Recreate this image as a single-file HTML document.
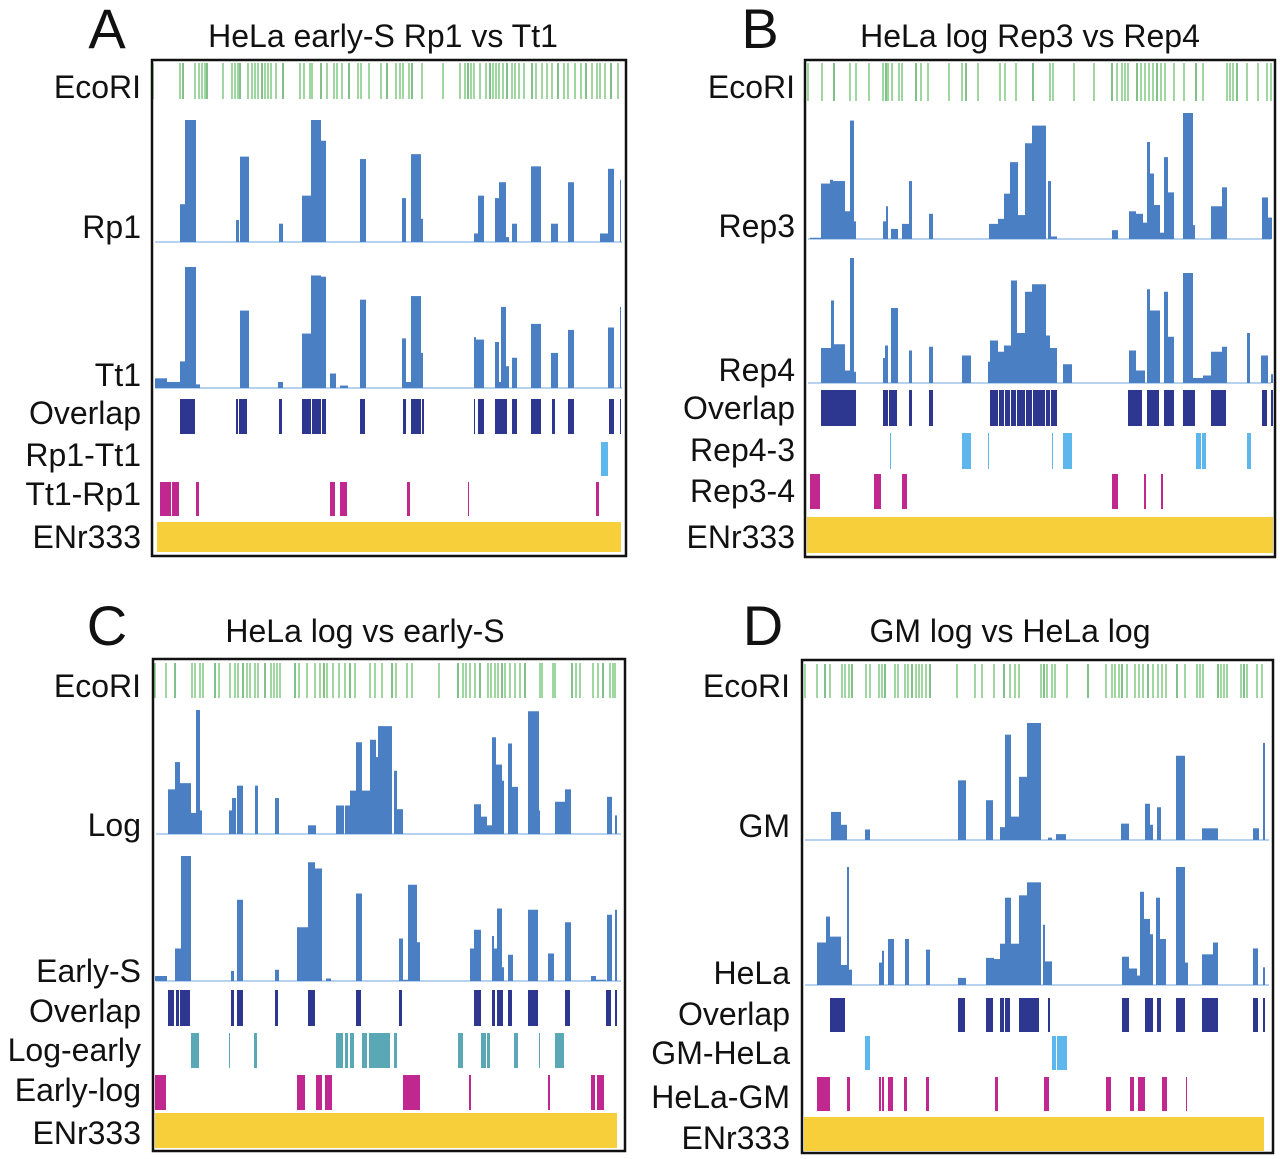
<!DOCTYPE html>
<html><head><meta charset="utf-8"><style>
html,body{margin:0;padding:0;background:#fff;}
svg{display:block;font-family:"Liberation Sans",Arial,sans-serif;}
</style></head><body>
<svg id="fig" width="1280" height="1159" viewBox="0 0 1280 1159" xmlns="http://www.w3.org/2000/svg"></svg>
<script>
// ===== DATA (positions in kb units along region, heights as fraction of track max) =====
const ecoA=[3,30,33,45,49,52,55,57,73,82,85,88,90,98,102,105,108,112,115,118,121,126,133,150,154,160,162,171,177,184,187,192,199,208,211,219,231,237,246,250,253,259,262,272,293,310,315,318,321,324,330,336,340,343,346,349,353,357,362,365,369,374,382,386,392,397,402,408,414,418,425,431,436,442,447,450,455,461,468];
const rp1=[[30,37,.31],[35,46,1],[86,89,.18],[90,99,.7],[129,133,.15],[152,161,.38],[161,171,1],[171,176,.83],[210,216,.68],[252,256,.36],[261,271,.72],[271,273,.19],[324,328,.07],[328,334,.38],[345,349,.36],[349,356,.49],[356,359,.04],[362,367,.15],[381,391,.62],[401,408,.15],[418,424,.49],[450,458,.07],[458,464,.6],[470,471,.51]];
const tt1=[[5,17,.08],[17,30,.05],[30,35,.22],[35,46,1],[46,50,.03],[90,99,.64],[128,133,.05],[152,161,.45],[161,171,.93],[171,176,.92],[180,186,.12],[190,198,.02],[210,216,.73],[252,256,.41],[256,261,.05],[261,271,.76],[271,273,.29],[324,326,.42],[326,334,.4],[345,349,.38],[349,351,.05],[351,356,.67],[356,359,.18],[362,367,.25],[381,391,.53],[401,408,.29],[418,424,.48],[458,464,.5],[470,471,.67]];
const ovA=[[30,45],[86,88],[89,97],[129,132],[152,161],[162,171],[172,176],[210,215],[253,256],[261,271],[272,274],[324,325],[328,334],[345,357],[362,367],[381,391],[402,405],[418,424],[459,464],[470,471]];
const rp1MinusTt1=[[451,458]];
const tt1MinusRp1=[[10,21],[22,29],[46,49],[180,185],[190,197],[257,260],[318,319],[446,449]];

const ecoB=[8,22,34,50,56,69,83,86,88,92,99,102,116,121,128,149,162,166,178,200,205,216,233,250,253,274,294,312,317,322,325,328,337,341,345,349,353,357,361,365,374,384,396,403,427,430,433,437,447,458,467,471];
const rep3=[[10,21,.01],[21,30,.44],[30,33,.47],[33,45,.46],[45,50,.22],[50,54,.94],[54,56,.14],[83,86,.14],[86,88,.26],[91,98,.08],[102,109,.12],[109,112,.46],[129,133,.2],[189,198,.12],[198,204,.16],[204,210,.36],[210,218,.61],[218,225,.19],[225,232,.76],[232,246,.9],[248,251,.46],[251,257,.02],[312,318,.07],[329,336,.22],[336,343,.2],[343,347,.13],[347,350,.77],[350,354,.52],[354,360,.27],[360,364,.05],[364,368,.65],[368,374,.37],[383,393,1],[393,395,.11],[411,422,.26],[422,427,.41],[462,468,.33],[468,472,.17]];
const rep4=[[21,31,.28],[31,34,.66],[34,45,.31],[45,50,.1],[50,54,1],[54,56,.09],[83,85,.2],[85,88,.3],[91,98,.6],[109,112,.26],[129,133,.29],[162,171,.22],[188,190,.17],[190,198,.34],[198,204,.25],[204,211,.3],[211,217,.82],[217,225,.4],[225,232,.73],[232,246,.79],[246,250,.38],[250,257,.28],[263,272,.15],[329,336,.26],[336,345,.1],[347,350,.75],[350,360,.58],[364,368,.73],[368,374,.37],[383,393,.88],[393,403,.04],[403,411,.06],[411,422,.25],[422,427,.29],[447,450,.4],[461,468,.22],[471,473,.07]];
const ovB=[[21,54],[54,56],[83,88],[89,97],[109,112],[129,133],[190,198],[199,204],[205,210],[211,216],[217,225],[226,232],[233,245],[246,250],[251,257],[328,342],[347,359],[364,374],[383,395],[411,426],[462,467],[471,473]];
const rep4Minus3=[[90,91],[162,171],[188,189],[252,253],[263,272],[396,401],[402,406],[447,451]];
const rep3Minus4=[[10,20],[74,81],[102,107],[312,318],[344,346],[361,363]];

const ecoC=[5,16,25,42,45,50,53,65,69,80,85,88,93,97,100,105,108,115,121,124,127,130,145,149,157,165,170,174,177,183,189,195,200,205,220,225,232,242,246,257,262,289,308,313,316,320,325,330,338,341,345,348,352,355,360,365,370,375,390,392,403,405,422,426,430,443,448,453,460,463,465];
const logS=[[18,25,.36],[25,30,.58],[30,41,.41],[41,46,.17],[46,50,1],[50,52,.19],[79,82,.19],[82,86,.29],[87,93,.39],[105,108,.39],[125,129,.29],[158,166,.07],[186,194,.23],[195,200,.23],[200,206,.35],[206,212,.74],[212,220,.35],[220,226,.76],[226,228,.62],[228,242,.87],[244,247,.51],[247,253,.2],[324,331,.24],[331,337,.14],[337,342,.07],[342,346,.78],[346,352,.56],[352,354,.43],[358,362,.73],[362,368,.38],[378,389,.99],[389,390,.19],[405,415,.26],[415,421,.36],[457,462,.3],[465,467,.15]];
const earlyS=[[5,17,.04],[25,31,.26],[31,41,1],[81,84,.08],[87,93,.65],[125,129,.09],[147,158,.43],[158,165,.95],[165,172,.9],[176,181,.02],[206,212,.7],[249,253,.34],[253,258,.01],[258,267,.77],[267,270,.31],[320,324,.26],[324,331,.41],[342,344,.36],[344,347,.26],[347,352,.58],[352,354,.11],[358,363,.21],[378,388,.57],[398,404,.22],[415,421,.47],[441,446,.04],[446,456,.01],[457,462,.53],[465,467,.57]];
const ovC=[[18,24],[26,29],[30,40],[81,84],[87,93],[125,128],[158,165],[206,211],[249,252],[324,331],[342,345],[347,353],[358,362],[378,388],[415,420],[456,461],[465,467]];
const logMinusEarly=[[41,49],[79,80],[104,107],[186,193],[195,198],[200,204],[212,217],[219,240],[244,247],[308,313],[331,336],[337,340],[364,368],[389,390],[405,414]];
const earlyMinusLog=[[5,16],[147,155],[166,172],[175,182],[253,270],[319,321],[398,400],[441,445],[447,454]];

const ecoD=[8,20,28,33,45,48,52,55,69,73,82,85,88,98,101,108,111,115,119,122,125,129,133,160,178,185,197,207,213,218,222,244,247,250,255,258,270,291,309,315,318,322,325,330,338,342,346,351,356,361,365,369,380,388,400,403,406,421,424,427,430,444,447,450,460,465];
const gm=[[34,44,.24],[44,50,.13],[68,73,.09],[161,169,.51],[189,196,.34],[203,208,.11],[208,214,.9],[214,222,.2],[222,230,.54],[230,244,1],[251,255,.02],[259,269,.05],[324,332,.14],[348,353,.31],[353,356,.13],[360,364,.28],[379,388,.72],[405,421,.1],[456,462,.1],[466,468,.83]];
const hela=[[20,32,.36],[29,33,.58],[33,44,.41],[44,50,.17],[50,52,1],[52,55,.13],[82,85,.19],[85,87,.29],[91,97,.39],[108,112,.39],[129,133,.3],[161,169,.06],[189,197,.23],[197,203,.22],[203,208,.35],[208,214,.74],[214,222,.35],[222,230,.76],[230,244,.87],[246,248,.51],[248,255,.2],[325,332,.24],[332,340,.14],[340,343,.08],[343,347,.79],[347,353,.56],[353,356,.43],[359,363,.74],[363,369,.39],[379,388,1],[388,391,.19],[405,416,.26],[416,421,.36],[456,461,.31],[466,468,.15]];
const ovD=[[33,48],[161,168],[189,196],[203,207],[208,213],[222,242],[251,253],[325,332],[348,356],[360,364],[379,388],[405,421],[456,461],[466,468]];
const gmMinusHela=[[68,73],[255,259],[260,270]];
const helaMinusGm=[[20,33],[50,53],[82,84],[85,87],[91,96],[107,110],[129,132],[198,201],[247,252],[309,314],[333,337],[341,348],[365,370],[389,390]];

// ===== LAYOUT =====
const C={sig:'#4a7fc4',base:'#9fc3ea',ov:'#2e3790',lb:'#5db6ec',mag:'#c0288f',teal:'#5aa8b6',yel:'#f7cf3b',eco:'#6cbf6c'};
const panels=[
 {id:'a',letter:'A',title:'HeLa early-S Rp1 vs Tt1',ox:150,box:[152,60,626,556],lx:107,ly:48,tx:383,ty:47,labR:141,
  eco:[ecoA,63,99],sigs:[[rp1,120,242,'Rp1',238],[tt1,267,388,'Tt1',386]],
  rows:[[ovA,399,434,C.ov,'Overlap',424],[rp1MinusTt1,442,476,C.lb,'Rp1-Tt1',466],[tt1MinusRp1,482,516,C.mag,'Tt1-Rp1',505]],
  yel:[157,621,522,552],ecoLab:98,enrY:548},
 {id:'b',letter:'B',title:'HeLa log Rep3 vs Rep4',ox:800,box:[805,60,1275,557],lx:760,ly:48,tx:1030,ty:47,labR:795,
  eco:[ecoB,63,101],sigs:[[rep3,113,239,'Rep3',237],[rep4,258,383,'Rep4',381]],
  rows:[[ovB,390,426,C.ov,'Overlap',419],[rep4Minus3,433,469,C.lb,'Rep4-3',461],[rep3Minus4,474,509,C.mag,'Rep3-4',502]],
  yel:[807,1273,517,553],ecoLab:98,enrY:548},
 {id:'c',letter:'C',title:'HeLa log vs early-S',ox:150,box:[153,659,625,1151],lx:107,ly:645,tx:365,ty:642,labR:141,
  eco:[ecoC,663,698],sigs:[[logS,710,834,'Log',836],[earlyS,856,981,'Early-S',982]],
  rows:[[ovC,990,1026,C.ov,'Overlap',1022],[logMinusEarly,1033,1068,C.teal,'Log-early',1061],[earlyMinusLog,1075,1110,C.mag,'Early-log',1101]],
  yel:[155,617,1113,1148],ecoLab:697,enrY:1144},
 {id:'d',letter:'D',title:'GM log vs HeLa log',ox:797,box:[802,660,1273,1153],lx:763,ly:645,tx:1010,ty:642,labR:790,
  eco:[ecoD,664,698],sigs:[[gm,723,840,'GM',837],[hela,867,985,'HeLa',984]],
  rows:[[ovD,998,1032,C.ov,'Overlap',1025],[gmMinusHela,1036,1070,C.lb,'GM-HeLa',1064],[helaMinusGm,1077,1111,C.mag,'HeLa-GM',1108]],
  yel:[804,1264,1117,1151],ecoLab:697,enrY:1149}
];

const NS='http://www.w3.org/2000/svg';
const svg=document.getElementById('fig');
function mk(tag,attrs,parent){const e=document.createElementNS(NS,tag);for(const k in attrs)e.setAttribute(k,attrs[k]);(parent||svg).appendChild(e);return e;}
function txt(s,x,y,size,anchor,parent){const t=mk('text',{x:x,y:y,'font-size':size,'text-anchor':anchor,fill:'#111'},parent);t.textContent=s;return t;}

panels.forEach(p=>{
  const g=mk('g',{});
  
  
  const xs=v=>p.ox+v; // x axis function (kb -> px)
  const L=txt(p.letter,p.lx,p.ly,56,'middle',g);
  
  
  const T=txt(p.title,p.tx,p.ty,32,'middle',g);
  
  
  const eg=mk('g',{},g);
  
  
  p.eco[0].forEach((v,i)=>{
    const l=mk('line',{x1:xs(v),x2:xs(v),y1:p.eco[1],y2:p.eco[2],stroke:i%5==2?'#3fa04a':C.eco,'stroke-width':1.3},eg);
    
    
  });
  const el=txt('EcoRI',p.labR,p.ecoLab,32,'end',g);
  
  
  p.sigs.forEach(([data,top,base,name,ly])=>{
    const sg=mk('g',{},g);
    
    
    const ys=h=>base-h*(base-top);
    const bl=mk('line',{x1:p.box[0]+3,x2:p.box[2]-4,y1:base,y2:base,stroke:C.base,'stroke-width':1.5},sg);
    
    
    data.forEach(d=>{
      const r=mk('rect',{x:xs(d[0]),y:ys(d[2]),width:Math.max(1,xs(d[1])-xs(d[0])),height:base-ys(d[2]),fill:C.sig},sg);
      
      
    });
    const lt=txt(name,p.labR,ly,32,'end',g);
    
    
  });
  p.rows.forEach(([data,y0,y1,col,name,ly])=>{
    const rg=mk('g',{},g);
    
    
    data.forEach(d=>{
      const r=mk('rect',{x:xs(d[0]),y:y0,width:Math.max(1,xs(d[1])-xs(d[0])),height:y1-y0,fill:col},rg);
      
      
    });
    const lt=txt(name,p.labR,ly,32,'end',g);
    
    
  });
  const yb=mk('rect',{x:p.yel[0],y:p.yel[2],width:p.yel[1]-p.yel[0],height:p.yel[3]-p.yel[2],fill:C.yel},g);
  
  
  const yl=txt('ENr333',p.labR,p.enrY,32,'end',g);
  
  
  const fr=mk('rect',{x:p.box[0],y:p.box[1],width:p.box[2]-p.box[0],height:p.box[3]-p.box[1],fill:'none',stroke:'#111','stroke-width':2.5},g);
  
  
});
</script>
</body></html>
